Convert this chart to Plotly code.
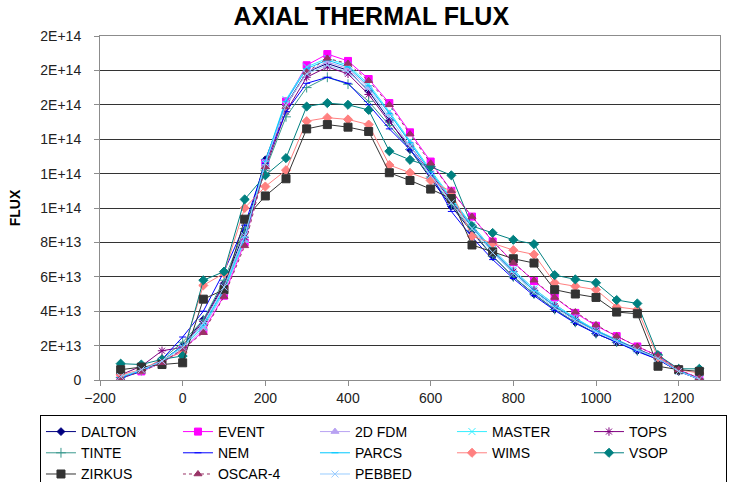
import plotly.graph_objects as go

x_pos = [-150, -100, -50, 0, 50, 100, 150, 200, 250, 300, 350, 400, 450, 500, 550,
         600, 650, 700, 750, 800, 850, 900, 950, 1000, 1050, 1100, 1150, 1200, 1250]

# flux values in units of 1e13
dalton = [0.15, 0.55, 1.1, 2.0, 3.5, 5.6, 8.6, 12.8, 16.0, 17.9, 18.4, 18.0, 16.8, 15.1, 13.4,
          11.7, 10.1, 8.6, 7.2, 6.0, 5.0, 4.1, 3.35, 2.7, 2.2, 1.7, 1.2, 0.5, 0.05]
event = [0.15, 0.5, 1.0, 1.75, 2.85, 4.9, 8.0, 12.6, 16.2, 18.3, 18.95, 18.55, 17.5, 16.1, 14.4,
         12.7, 11.0, 9.5, 8.05, 6.85, 5.75, 4.8, 3.9, 3.15, 2.55, 1.95, 1.4, 0.6, 0.1]
fdm2d = [0.15, 0.5, 1.0, 1.8, 3.0, 5.1, 8.1, 12.5, 15.9, 17.9, 18.5, 18.1, 17.0, 15.5, 13.8,
         12.1, 10.5, 9.0, 7.6, 6.4, 5.3, 4.4, 3.6, 2.9, 2.35, 1.8, 1.3, 0.55, 0.05]
master = [0.2, 0.55, 1.1, 1.9, 3.1, 5.2, 8.2, 12.7, 16.3, 18.2, 18.7, 18.3, 17.2, 15.6, 13.9,
          12.2, 10.6, 9.0, 7.6, 6.4, 5.3, 4.4, 3.6, 2.9, 2.35, 1.8, 1.3, 0.55, 0.05]
tops = [0.3, 0.8, 1.7, 1.9, 3.4, 5.5, 8.3, 12.3, 15.6, 17.6, 18.2, 17.8, 16.6, 15.0, 13.6,
        12.0, 10.4, 8.9, 7.5, 6.3, 5.2, 4.3, 3.5, 2.85, 2.3, 1.8, 1.3, 0.55, 0.05]
tinte = [0.15, 0.55, 1.2, 2.2, 3.5, 5.8, 8.8, 12.2, 15.3, 17.0, 17.6, 17.2, 16.2, 14.8, 13.4,
         11.8, 10.2, 8.7, 7.2, 6.0, 5.0, 4.1, 3.35, 2.7, 2.2, 1.7, 1.25, 0.55, 0.05]
nem = [0.1, 0.5, 1.2, 2.5, 4.0, 6.3, 9.0, 12.6, 15.6, 17.25, 17.6, 17.25, 16.0, 14.6, 13.4,
       12.0, 9.8, 8.3, 7.0, 5.9, 4.9, 4.05, 3.3, 2.7, 2.2, 1.65, 1.2, 0.5, 0.05]
parcs = [0.15, 0.55, 1.1, 2.0, 3.2, 5.3, 8.3, 12.7, 16.2, 18.1, 18.6, 18.2, 17.1, 15.5, 13.8,
         12.1, 10.5, 8.9, 7.5, 6.3, 5.2, 4.3, 3.55, 2.85, 2.3, 1.75, 1.3, 0.55, 0.05]
wims = [0.3, 0.6, 1.2, 1.6, 5.5, 6.2, 10.0, 11.25, 12.2, 15.05, 15.25, 15.15, 14.85, 12.5, 12.05,
        11.6, 10.95, 8.35, 7.95, 7.55, 7.3, 5.65, 5.45, 5.25, 4.25, 4.1, 1.3, 0.6, 0.4]
vsop = [0.95, 0.9, 1.2, 1.4, 5.8, 6.3, 10.5, 11.9, 12.9, 15.9, 16.1, 16.0, 15.7, 13.3, 12.8,
        12.4, 11.9, 8.95, 8.55, 8.15, 7.9, 6.1, 5.85, 5.65, 4.65, 4.45, 1.45, 0.65, 0.65]
zirkus = [0.6, 0.75, 0.9, 1.0, 4.7, 5.25, 9.35, 10.7, 11.7, 14.6, 14.85, 14.7, 14.45, 12.05, 11.6,
          11.1, 10.55, 7.85, 7.45, 7.05, 6.8, 5.25, 5.0, 4.8, 3.95, 3.85, 0.8, 0.6, 0.5]
oscar4 = [0.1, 0.5, 1.0, 1.8, 2.75, 4.85, 7.8, 12.4, 15.9, 17.9, 18.7, 18.4, 17.4, 16.0, 14.3,
          12.6, 11.0, 9.5, 8.1, 6.8, 5.8, 4.8, 3.95, 3.2, 2.55, 1.95, 1.4, 0.6, 0.1]
pebbed = [0.2, 0.6, 1.1, 1.9, 3.3, 5.4, 8.4, 12.6, 16.0, 17.8, 18.3, 17.9, 16.9, 15.3, 13.6,
          11.9, 10.3, 8.8, 7.4, 6.2, 5.1, 4.2, 3.45, 2.8, 2.25, 1.75, 1.25, 0.5, 0.05]

series_names = ["DALTON", "EVENT", "2D FDM", "MASTER", "TOPS",
                "TINTE", "NEM", "PARCS", "WIMS", "VSOP",
                "ZIRKUS", "OSCAR-4", "PEBBED"]
series_values = [dalton, event, fdm2d, master, tops,
                 tinte, nem, parcs, wims, vsop,
                 zirkus, oscar4, pebbed]

y_tickvals = [0, 2e13, 4e13, 6e13, 8e13, 1e14, 1.2e14, 1.4e14, 1.6e14, 1.8e14, 2e14]
y_ticktext = ["0", "2E+13", "4E+13", "6E+13", "8E+13", "1E+14", "1E+14", "1E+14",
              "2E+14", "2E+14", "2E+14"]
x_tickvals = [-200, 0, 200, 400, 600, 800, 1000, 1200]

styles = [
    dict(color="#000080", symbol="diamond", size=6, dash="solid"),
    dict(color="#FF00FF", symbol="square", size=7, dash="solid"),
    dict(color="#B8A2F2", symbol="triangle-up", size=7, dash="solid"),
    dict(color="#33EEFF", symbol="x-thin-open", size=7, dash="solid"),
    dict(color="#800080", symbol="asterisk-open", size=7, dash="solid"),
    dict(color="#3A9A8E", symbol="cross-thin-open", size=7, dash="solid"),
    dict(color="#0000FF", symbol="line-ew-open", size=5, dash="solid"),
    dict(color="#00C8FF", symbol="line-ew-open", size=5, dash="solid"),
    dict(color="#FF8080", symbol="diamond", size=7, dash="solid"),
    dict(color="#008080", symbol="diamond", size=7, dash="solid"),
    dict(color="#333333", symbol="square", size=8, dash="solid"),
    dict(color="#993366", symbol="triangle-up", size=7, dash="dot"),
    dict(color="#99CCFF", symbol="x-thin-open", size=7, dash="solid"),
]

fig = go.Figure()
for name, vals, st in zip(series_names, series_values, styles):
    fig.add_trace(go.Scatter(
        x=x_pos, y=[v * 1e13 for v in vals], name=name, mode="lines+markers",
        line=dict(color=st["color"], width=1, dash=st["dash"]),
        marker=dict(symbol=st["symbol"], size=st["size"], color=st["color"],
                    line=dict(color=st["color"], width=1)),
    ))

font_main = "Liberation Sans, Arial, sans-serif"

fig.update_layout(
    width=731, height=482,
    margin=dict(l=100, r=11, t=36, b=102, autoexpand=False),
    paper_bgcolor="white", plot_bgcolor="white",
    title=dict(text="<b>AXIAL THERMAL FLUX</b>", x=0.508, xanchor="center", y=0.967, yanchor="middle",
               font=dict(family=font_main, size=25, color="black")),
    font=dict(family=font_main, size=14, color="black"),
    xaxis=dict(range=[-200, 1300], tickvals=x_tickvals, showgrid=False, zeroline=False,
               showline=True, linecolor="#8c8c8c", linewidth=1, mirror=True,
               ticks="outside", ticklen=5, tickcolor="#8c8c8c",
               tickfont=dict(family=font_main, size=14, color="#222")),
    yaxis=dict(range=[0, 2e14], tickvals=y_tickvals, ticktext=y_ticktext,
               showgrid=True, gridcolor="#333333", gridwidth=1, zeroline=False,
               showline=True, linecolor="#8c8c8c", linewidth=1, mirror=True,
               ticks="outside", ticklen=5, tickcolor="#8c8c8c", ticklabelstandoff=10,
               tickfont=dict(family=font_main, size=14, color="#222"),
               title=dict(text="<b>FLUX</b>", standoff=16,
                          font=dict(family=font_main, size=14, color="black"))),
    legend=dict(orientation="h", x=-0.0968, xanchor="left", y=-0.1017, yanchor="top",
                bordercolor="black", borderwidth=1, bgcolor="white",
                entrywidth=92, entrywidthmode="pixels", traceorder="normal",
                font=dict(family=font_main, size=14, color="black"),
                itemwidth=30, tracegroupgap=0),
)

fig.write_html("out.html", config={"displayModeBar": False},
               post_script="document.body.style.margin='0';")
